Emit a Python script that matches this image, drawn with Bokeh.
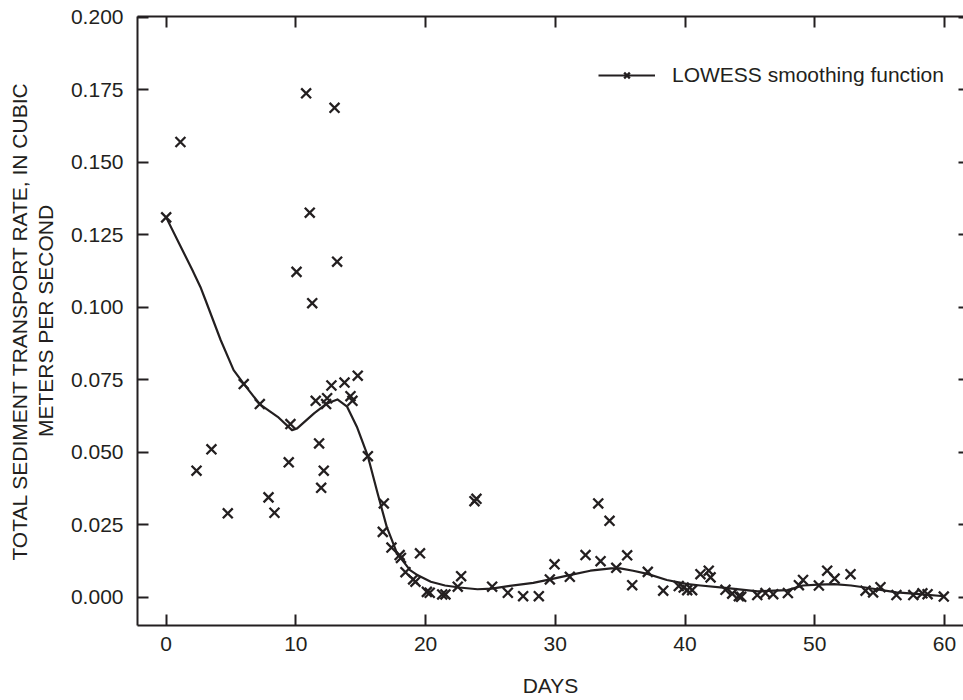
from bokeh.plotting import figure
from bokeh.models import (Range1d, FixedTicker, LinearAxis, Legend, LegendItem,
                          NumeralTickFormatter)
from bokeh.embed import file_html
from bokeh.resources import INLINE

# ---- data: observed points (days, total sediment transport rate m^3/s)
days = [0.0, 1.1, 2.34, 3.49, 4.75, 5.98, 7.22, 7.89, 8.35, 9.45, 9.58, 10.05,
        10.79, 11.07, 11.26, 11.53, 11.79, 11.95, 12.15, 12.33, 12.41, 12.74,
        12.98, 13.18, 13.75, 14.21, 14.36, 14.77, 15.55, 16.7, 16.78, 17.37,
        18.0, 18.1, 18.45, 19.04, 19.22, 19.57, 20.1, 20.32, 21.28, 21.53,
        22.48, 22.74, 23.77, 23.92, 25.13, 26.34, 27.52, 28.73, 29.58, 29.94,
        31.12, 32.33, 33.31, 33.49, 34.18, 34.7, 35.54, 35.93, 37.13, 38.32,
        39.52, 39.9, 40.17, 40.55, 41.19, 41.83, 41.97, 43.12, 43.64, 44.15,
        44.33, 45.57, 46.2, 46.8, 47.93, 48.78, 49.1, 50.32, 50.96, 51.53,
        52.76, 53.92, 54.5, 55.07, 56.3, 57.6, 58.3, 58.7, 59.95]
rate = [0.131, 0.157, 0.0436, 0.051, 0.0289, 0.0735, 0.0666, 0.0344, 0.0291,
        0.0465, 0.0597, 0.1122, 0.1738, 0.1326, 0.1014, 0.0677, 0.053, 0.0377,
        0.0436, 0.0666, 0.0686, 0.073, 0.1688, 0.1157, 0.074, 0.0693, 0.0677,
        0.0764, 0.0486, 0.0225, 0.0323, 0.0171, 0.0145, 0.0135, 0.0086, 0.0061,
        0.0053, 0.0151, 0.0018, 0.0015, 0.0009, 0.0009, 0.0036, 0.0072, 0.0331,
        0.0339, 0.0036, 0.0015, 0.0003, 0.0003, 0.0061, 0.0113, 0.007, 0.0145,
        0.0323, 0.0124, 0.0263, 0.0101, 0.0144, 0.0041, 0.0087, 0.0022, 0.0038,
        0.0033, 0.0024, 0.0024, 0.0079, 0.0091, 0.0068, 0.0025, 0.0012, 0.0003,
        0.0001, 0.0007, 0.0014, 0.0010, 0.0014, 0.0041, 0.0059, 0.0040, 0.0091,
        0.0064, 0.0079, 0.0022, 0.0016, 0.0034, 0.0007, 0.0007, 0.0013, 0.0010,
        0.0002]

# ---- LOWESS smoothing curve
lowess_x = [0.0, 1.0, 2.0, 2.64, 3.03, 4.2, 5.2, 6.0, 7.2, 8.6, 9.7, 10.1, 11.4,
            12.4, 13.2, 13.95, 14.7, 15.55, 16.3, 17.0, 17.8, 18.8, 19.4, 20.4,
            21.5, 22.6, 24.0, 25.1, 26.5, 28.3, 29.6, 31.1, 32.7, 34.3, 35.0,
            36.0, 37.1, 38.6, 40.2, 41.2, 43.1, 45.6, 47.9, 49.1, 50.3, 51.5,
            52.8, 53.9, 56.3, 57.6, 60.0]
lowess_y = [0.131, 0.122, 0.113, 0.107, 0.1025, 0.0887, 0.0783, 0.0735, 0.0666,
            0.0622, 0.0576, 0.0582, 0.0634, 0.0668, 0.0682, 0.0657, 0.0588,
            0.0486, 0.0358, 0.0243, 0.0151, 0.0093, 0.0075, 0.0053, 0.0040,
            0.0033, 0.0027, 0.0029, 0.0039, 0.0049, 0.0061, 0.0076, 0.0091,
            0.0099, 0.0099, 0.0091, 0.0080, 0.0059, 0.0045, 0.0040, 0.0032,
            0.0020, 0.0024, 0.0040, 0.0043, 0.0045, 0.0040, 0.0033, 0.0016,
            0.0012, 0.0003]

x_ticks = [0, 10, 20, 30, 40, 50, 60]
y_ticks = [0.0, 0.025, 0.05, 0.075, 0.1, 0.125, 0.15, 0.175, 0.2]

INK = "#231f20"
FONT = "Liberation Sans"
FS = "21px"

p = figure(width=963, height=700, output_backend="svg", toolbar_location=None,
           x_range=Range1d(-2.21, 61.47), y_range=Range1d(-0.0098, 0.2003),
           min_border_left=137, min_border_right=0, min_border_top=16,
           min_border_bottom=75, x_axis_location=None, y_axis_location=None)
p.grid.visible = False
p.outline_line_color = None
p.background_fill_color = "white"
p.border_fill_color = "white"


def style(ax, labels=True):
    ax.axis_line_color = INK
    ax.axis_line_width = 2
    ax.major_tick_line_color = INK
    ax.major_tick_line_width = 2
    ax.major_tick_in = 11
    ax.major_tick_out = 0
    ax.minor_tick_line_color = None
    ax.major_label_text_font = FONT
    ax.major_label_text_color = INK
    if labels:
        ax.major_label_text_font_size = FS
    else:
        ax.major_label_text_font_size = "1px"
        ax.major_label_text_color = None
        ax.major_label_standoff = 0
    ax.axis_label_text_font = FONT
    ax.axis_label_text_font_size = FS
    ax.axis_label_text_color = INK
    ax.axis_label_text_font_style = "normal"


xb = LinearAxis(ticker=FixedTicker(ticks=x_ticks), axis_label="DAYS")
style(xb)
xb.major_label_text_line_height = 1.0
xb.axis_label_text_line_height = 1.0
xb.major_label_standoff = 11
xb.axis_label_standoff = 20
p.add_layout(xb, "below")

xt = LinearAxis(ticker=FixedTicker(ticks=x_ticks))
style(xt, labels=False)
p.add_layout(xt, "above")

yl = LinearAxis(ticker=FixedTicker(ticks=y_ticks),
                formatter=NumeralTickFormatter(format="0.000"),
                axis_label="TOTAL SEDIMENT TRANSPORT RATE, IN CUBIC\nMETERS PER SECOND")
style(yl)
yl.axis_label_text_line_height = 1.12
yl.major_label_standoff = 14
yl.axis_label_standoff = 11
p.add_layout(yl, "left")

yr = LinearAxis(ticker=FixedTicker(ticks=y_ticks))
style(yr, labels=False)
yr.axis_line_color = None
yr.major_tick_in = 5
p.add_layout(yr, "right")

curve = p.line(lowess_x, lowess_y, line_color=INK, line_width=2.2,
               line_join="round")
pts = p.scatter(days, rate, marker="x", size=14, line_color=INK, line_width=2.3)

legend = Legend(items=[LegendItem(label="LOWESS smoothing function",
                                  renderers=[curve, pts])],
                location=(461, 538), padding=0, margin=0,
                border_line_color=None, background_fill_alpha=0,
                glyph_width=57, glyph_height=20, label_standoff=17,
                label_text_font=FONT, label_text_font_size=FS,
                label_text_color=INK)
p.add_layout(legend, "center")

open("out.html", "w").write(file_html(p, INLINE))
